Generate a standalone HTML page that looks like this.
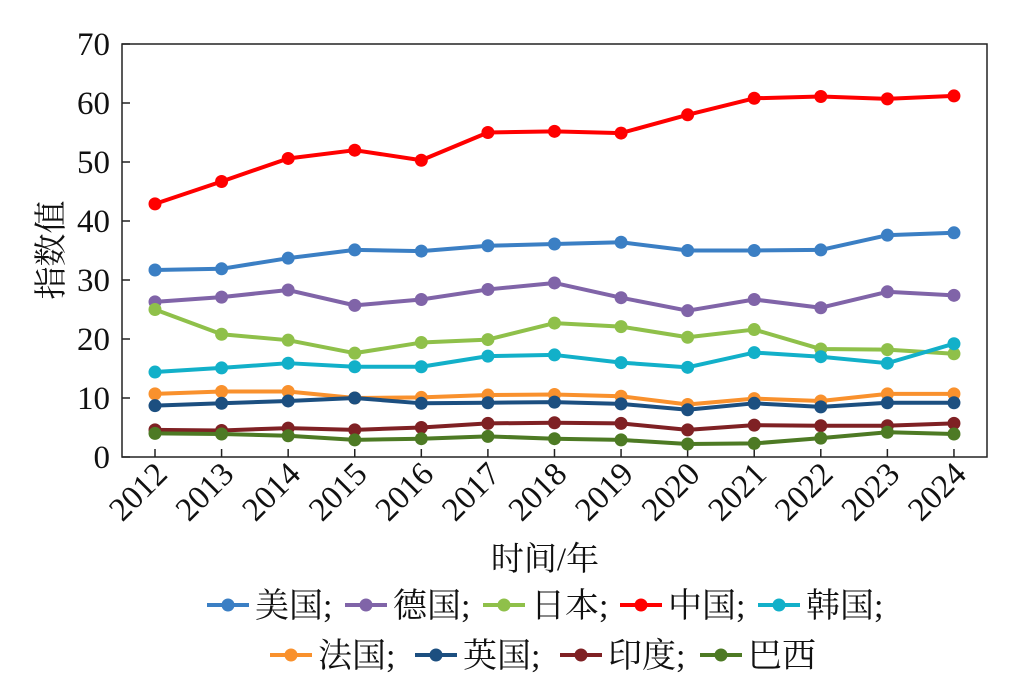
<!DOCTYPE html>
<html><head><meta charset="utf-8"><style>
body{margin:0;background:#fff}
svg text{font-family:"Liberation Serif","Noto Serif CJK SC",serif;fill:#111}
</style></head><body>
<svg width="1028" height="680" xmlns="http://www.w3.org/2000/svg">
<rect x="122" y="44" width="865" height="413" fill="none" stroke="#222" stroke-width="1.5"/>
<g id="yt" font-size="33" text-anchor="end"></g>
<g id="xt" font-size="33" text-anchor="end"></g>
<g id="ser"></g>
<text x="0" y="0" font-size="33" text-anchor="middle" transform="translate(62,250) rotate(-90)">指数值</text>
<text x="545" y="570" font-size="33" text-anchor="middle">时间/年</text>
<g id="leg" font-size="34"></g>
</svg>
<script>
const NS="http://www.w3.org/2000/svg";
function el(p,t,a,txt){const e=document.createElementNS(NS,t);for(const k in a)e.setAttribute(k,a[k]);if(txt)e.textContent=txt;p.appendChild(e);return e;}
const X=i=>155+i*66.58, Y=v=>457-v*5.9;
const yt=document.getElementById('yt'),xt=document.getElementById('xt');
for(let v=0;v<=70;v+=10){el(yt,'text',{x:110,y:Y(v)+11},String(v));el(yt,'line',{x1:122,x2:130,y1:Y(v),y2:Y(v),stroke:'#222','stroke-width':1.5});}
for(let i=0;i<13;i++){el(xt,'line',{x1:X(i),x2:X(i),y1:457,y2:449,stroke:'#222','stroke-width':1.5});
el(xt,'text',{x:0,y:0,transform:`translate(${X(i)+14},${476}) rotate(-45)`},String(2012+i));}
const S=[
['美国','#3b7fc4',[31.7,31.9,33.7,35.1,34.9,35.8,36.1,36.4,35.0,35.0,35.1,37.6,38.0]],
['德国','#8064a8',[26.3,27.1,28.3,25.7,26.7,28.4,29.5,27.0,24.8,26.7,25.3,28.0,27.4]],
['日本','#8fc04a',[25.0,20.8,19.8,17.6,19.4,19.9,22.7,22.1,20.3,21.6,18.3,18.2,17.5]],
['中国','#ff0000',[42.9,46.7,50.6,52.0,50.3,55.0,55.2,54.9,58.0,60.8,61.1,60.7,61.2]],
['韩国','#12b0c9',[14.4,15.1,15.9,15.3,15.3,17.1,17.3,16.0,15.2,17.7,17.0,15.9,19.2]],
['法国','#f9912d',[10.7,11.1,11.1,10.0,10.1,10.5,10.6,10.3,8.9,9.9,9.5,10.7,10.7]],
['英国','#1c4f80',[8.7,9.1,9.5,10.0,9.1,9.2,9.3,9.0,8.0,9.1,8.5,9.2,9.2]],
['印度','#7f2124',[4.6,4.5,4.9,4.6,5.0,5.7,5.8,5.7,4.6,5.4,5.3,5.3,5.7]],
['巴西','#4d7a24',[4.0,3.9,3.6,2.9,3.1,3.5,3.1,2.9,2.2,2.3,3.2,4.2,3.9]]];
const ser=document.getElementById('ser');
S.forEach(([n,c,d])=>{el(ser,'polyline',{points:d.map((v,i)=>X(i)+','+Y(v)).join(' '),fill:'none',stroke:c,'stroke-width':4,'stroke-linejoin':'round'});
d.forEach((v,i)=>el(ser,'circle',{cx:X(i),cy:Y(v),r:6.5,fill:c}));});
const leg=document.getElementById('leg');
const pos=[[207,605],[345,605],[483,605],[620,605],[758,605],[270,655],[415,655],[560,655],[700,655]];
S.forEach(([n,c],k)=>{const [x,y]=pos[k];
el(leg,'line',{x1:x,x2:x+42,y1:y,y2:y,stroke:c,'stroke-width':4});
el(leg,'circle',{cx:x+21,cy:y,r:6.5,fill:c});
el(leg,'text',{x:x+48,y:y+12},n+(k==8?'':';'));});
</script>
</body></html>
